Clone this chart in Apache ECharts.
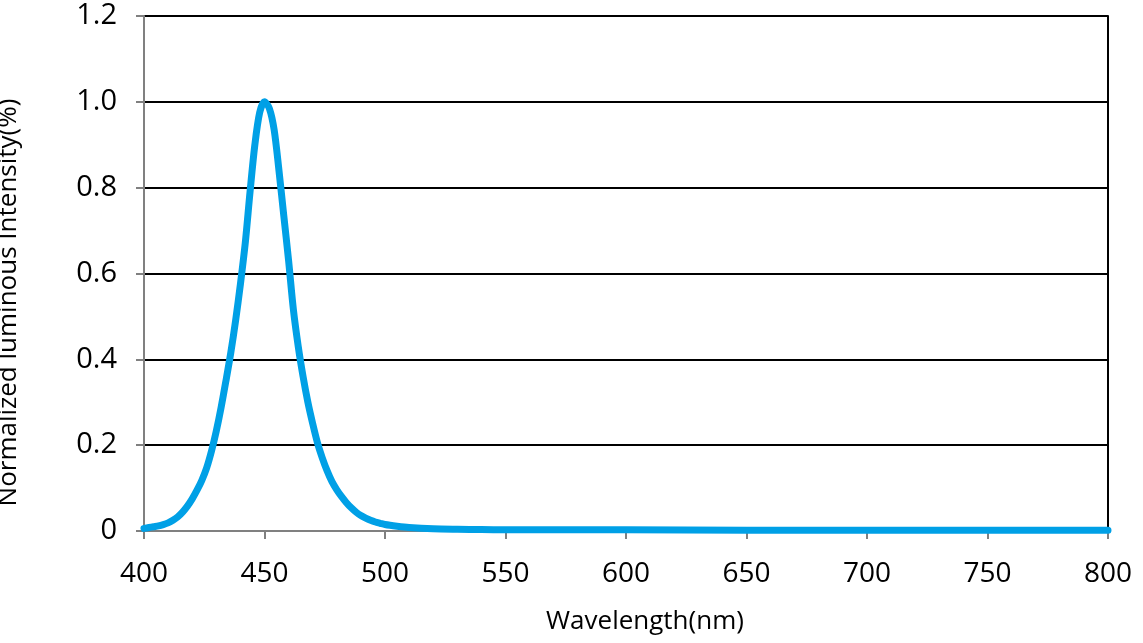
<!DOCTYPE html>
<html>
<head>
<meta charset="utf-8">
<script src="https://cdn.jsdelivr.net/npm/echarts@6/dist/echarts.min.js"></script>
<style>html,body{margin:0;padding:0;background:#fff;}#c{width:1143px;height:643px;}</style>
</head>
<body>
<div id="c"></div>
<script>
const wavelengths = [400,402,404,406,408,410,412,414,416,418,420,422,424,426,428,430,432,434,436,438,440,442,444,446,448,450,452,454,456,458,460,462,464,466,468,470,472,474,476,478,480,482,484,486,488,490,492,494,496,498,500,505,510,520,530,540,550,600,650,700,750,800];
const intensity  = [0.006,0.008,0.01,0.012,0.015,0.019,0.025,0.033,0.044,0.058,0.075,0.095,0.118,0.147,0.186,0.233,0.288,0.35,0.415,0.49,0.575,0.67,0.79,0.9,0.975,1.0,0.985,0.935,0.84,0.735,0.63,0.515,0.43,0.36,0.30,0.25,0.205,0.17,0.14,0.115,0.096,0.08,0.066,0.054,0.044,0.036,0.03,0.025,0.021,0.018,0.015,0.011,0.008,0.005,0.004,0.0035,0.003,0.003,0.002,0.002,0.002,0.002];
const xTicks = [400,450,500,550,600,650,700,750,800];
const yTicks = [0,0.2,0.4,0.6,0.8,1.0,1.2];
const xTitle = 'Wavelength(nm)';
const yTitle = 'Normalized luminous Intensity(%)';

const chart = echarts.init(document.getElementById('c'), null, {renderer:'canvas'});
const font = "'Open Sans','Noto Sans',sans-serif";
chart.setOption({
  animation:false,
  backgroundColor:'#fff',
  grid:{left:144,right:35,top:16,bottom:112,containLabel:false,outerBoundsMode:'none'},
  xAxis:{
    type:'value',min:xTicks[0],max:xTicks[xTicks.length-1],interval:50,
    name:xTitle,nameLocation:'middle',nameGap:78,
    nameTextStyle:{fontFamily:font,fontSize:26,color:'#000',padding:[0,0,0,38]},
    axisLine:{show:true,onZero:false,lineStyle:{color:'#808080',width:2}},
    axisTick:{show:true,length:8,lineStyle:{color:'#808080',width:2}},
    axisLabel:{fontFamily:font,fontSize:28,color:'#000',margin:29},
    splitLine:{show:false}
  },
  yAxis:[{
    type:'value',min:0,max:1.2,interval:0.2,
    name:yTitle,nameLocation:'middle',nameGap:122,
    nameTextStyle:{fontFamily:font,fontSize:26,color:'#000',padding:[0,58,0,0]},
    axisLine:{show:true,lineStyle:{color:'#808080',width:2}},
    axisTick:{show:true,length:8,lineStyle:{color:'#808080',width:2}},
    axisLabel:{fontFamily:font,fontSize:29,color:'#000',margin:27,
      formatter:v=> v===0 ? '0' : v.toFixed(1)},
    splitLine:{show:true,lineStyle:{color:'#000',width:2}}
  },{
    type:'value',min:0,max:1.2,interval:0.2,position:'right',
    axisLine:{show:true,lineStyle:{color:'#000',width:2}},
    axisTick:{show:false},axisLabel:{show:false},splitLine:{show:false}
  }],
  series:[{
    type:'line',
    data:wavelengths.map((w,i)=>[w,intensity[i]]),
    smooth:0.3,
    showSymbol:false,
    lineStyle:{color:'#00a0e6',width:7,cap:'round',join:'round'},
    z:5
  }]
});
</script>
</body>
</html>
